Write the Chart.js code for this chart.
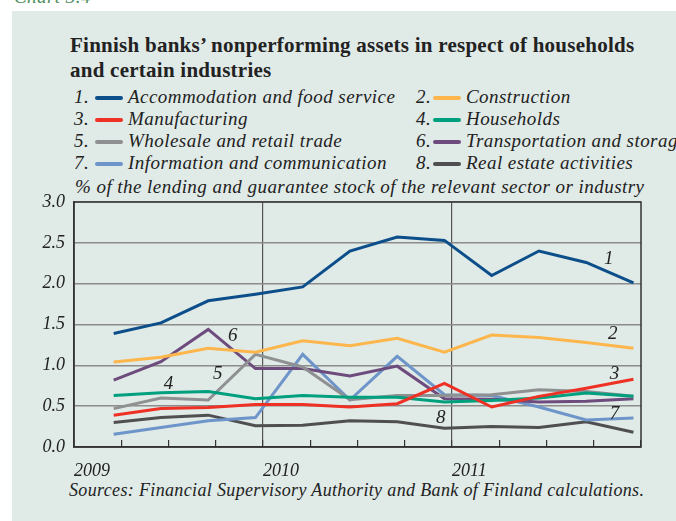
<!DOCTYPE html>
<html>
<head>
<meta charset="utf-8">
<script src="https://cdn.jsdelivr.net/npm/chart.js@4"></script>
<style>
  html, body { margin: 0; padding: 0; width: 676px; height: 521px; overflow: hidden; background: #fff; }
  #panel { position: absolute; left: 12px; top: 11px; right: 0; bottom: 0; background: #e0eae7; }
  .t { position: absolute; font-family: "Liberation Serif", serif; color: #222; white-space: nowrap; }
  .title { font-weight: bold; font-size: 21px; line-height: 25px; letter-spacing: 0.25px; }
  .it { font-style: italic; font-size: 19px; line-height: 22px; letter-spacing: 0.45px; }
  .src { font-style: italic; font-size: 18px; line-height: 22px; letter-spacing: 0.35px; }
  .swatch { position: absolute; height: 3.5px; border-radius: 2px; }
  #chart { position: absolute; left: 0; top: 0; }
</style>
</head>
<body>
<div class="t it" style="left:14px; top:-14px; color:#4e8d5f;">Chart 3.4</div>
<div id="panel"></div>
<div class="t title" style="left:70px; top:33px;">Finnish banks’ nonperforming assets in respect of households<br>and certain industries</div>
<div id="legend"></div>
<div class="t it" style="left:75px; top:176px;">% of the lending and guarantee stock of the relevant sector or industry</div>
<div class="t src" style="left:69px; top:479px;">Sources: Financial Supervisory Authority and Bank of Finland calculations.</div>
<canvas id="chart" width="676" height="521"></canvas>

<script>
// quarterly observations, 2009–2011
const periods = [2009.21, 2009.46, 2009.71, 2009.96, 2010.21, 2010.46, 2010.71, 2010.96, 2011.21, 2011.46, 2011.71, 2011.96];

const accommodation = [1.39, 1.52, 1.79, 1.87, 1.96, 2.40, 2.57, 2.53, 2.10, 2.40, 2.26, 2.01];
const construction  = [1.04, 1.10, 1.21, 1.16, 1.30, 1.24, 1.33, 1.16, 1.37, 1.34, 1.28, 1.21];
const manufacturing = [0.39, 0.47, 0.485, 0.52, 0.52, 0.49, 0.53, 0.78, 0.49, 0.62, 0.72, 0.83];
const households    = [0.63, 0.665, 0.68, 0.59, 0.63, 0.61, 0.61, 0.55, 0.57, 0.60, 0.66, 0.62];
const wholesale     = [0.47, 0.60, 0.575, 1.135, 0.98, 0.58, 0.63, 0.63, 0.64, 0.70, 0.68, 0.62];
const transport     = [0.82, 1.045, 1.44, 0.96, 0.96, 0.87, 0.99, 0.59, 0.585, 0.55, 0.56, 0.59];
const information   = [0.155, 0.24, 0.32, 0.36, 1.135, 0.575, 1.11, 0.64, 0.63, 0.49, 0.33, 0.355];
const realEstate    = [0.30, 0.36, 0.39, 0.26, 0.265, 0.32, 0.31, 0.23, 0.25, 0.24, 0.31, 0.18];

const seriesNames = [
  "Accommodation and food service", "Construction",
  "Manufacturing", "Households",
  "Wholesale and retail trade", "Transportation and storage",
  "Information and communication", "Real estate activities"
];
const seriesColors = ["#0b4e8a", "#fdb64b", "#ee3124", "#00a07f", "#8e9092", "#6d4c7d", "#6e95c9", "#4f4f51"];
const seriesData = [accommodation, construction, manufacturing, households, wholesale, transport, information, realEstate];

// in-chart number labels (data coordinates)
const tagText = ["1", "2", "3", "4", "5", "6", "7", "8"];
const tagX    = [2011.83, 2011.85, 2011.86, 2009.50, 2009.76, 2009.84, 2011.86, 2010.94];
const tagY    = [2.30, 1.38, 0.90, 0.77, 0.90, 1.36, 0.41, 0.36];

// legend, two columns
const legend = document.getElementById("legend");
const rowTops = [86, 108, 130, 152];
seriesNames.forEach((name, i) => {
  const row = Math.floor(i / 2), col = i % 2;
  const top = rowTops[row];
  const x0 = col ? 416 : 74;
  const num = document.createElement("div");
  num.className = "t it";
  num.style.left = x0 + "px"; num.style.top = top + "px";
  num.textContent = (i + 1) + ".";
  legend.appendChild(num);
  const sw = document.createElement("div");
  sw.className = "swatch";
  sw.style.left = (x0 + (col ? 17 : 21)) + "px"; sw.style.top = (top + 10) + "px";
  sw.style.width = "28px"; sw.style.background = seriesColors[i];
  legend.appendChild(sw);
  const lab = document.createElement("div");
  lab.className = "t it";
  lab.style.left = (x0 + (col ? 50 : 54)) + "px"; lab.style.top = top + "px";
  lab.textContent = name;
  legend.appendChild(lab);
});

Chart.defaults.font.family = '"Liberation Serif", serif';

const framePlugin = {
  id: "frame",
  afterDatasetsDraw(chart) {
    const { ctx, chartArea: a, scales: { x, y } } = chart;
    ctx.save();
    ctx.strokeStyle = "#333";
    ctx.lineWidth = 1.5;
    ctx.strokeRect(a.left, a.top, a.right - a.left, a.bottom - a.top);
    ctx.fillStyle = "#222";
    ctx.font = "italic 19px 'Liberation Serif', serif";
    ctx.textAlign = "center";
    ctx.textBaseline = "middle";
    tagText.forEach((t, i) => {
      ctx.fillText(t, x.getPixelForValue(tagX[i]), y.getPixelForValue(tagY[i]));
    });
    ctx.restore();
  }
};

new Chart(document.getElementById("chart"), {
  type: "line",
  data: {
    datasets: seriesData.map((vals, i) => ({
      label: seriesNames[i],
      data: vals.map((v, k) => ({ x: periods[k], y: v })),
      borderColor: seriesColors[i],
      borderWidth: 3,
      pointRadius: 0,
      tension: 0,
      fill: false,
    }))
  },
  options: {
    responsive: false,
    animation: false,
    layout: { padding: { left: 0, top: 202, right: 35, bottom: 34 } },
    plugins: { legend: { display: false }, tooltip: { enabled: false } },
    scales: {
      x: {
        type: "linear",
        min: 2009, max: 2012,
        ticks: {
          stepSize: 0.25, autoSkip: false, maxRotation: 0, align: "start",
          padding: 20, color: "#222",
          font: { size: 18, style: "italic" },
          callback: v => (Number.isInteger(v) && v < 2012) ? String(v) : "",
        },
        grid: {
          color: c => (c.tick && (c.tick.value === 2010 || c.tick.value === 2011)) ? "#555" : "rgba(0,0,0,0)",
          lineWidth: 1.2,
          tickLength: -7,
          tickColor: "#333",
          tickWidth: 1.2,
        },
        border: { color: "#333", width: 1.5 },
        afterFit: s => { s.height = 40; },
      },
      y: {
        min: 0, max: 3,
        ticks: {
          stepSize: 0.5, padding: 9, color: "#222",
          font: { size: 18, style: "italic" },
          callback: v => v.toFixed(1),
        },
        grid: { color: "#8c8c8c", lineWidth: 1.5, drawTicks: false },
        border: { color: "#333", width: 1.5 },
        afterFit: s => { s.width = 74; },
      }
    }
  },
  plugins: [framePlugin],
});
</script>
</body>
</html>
